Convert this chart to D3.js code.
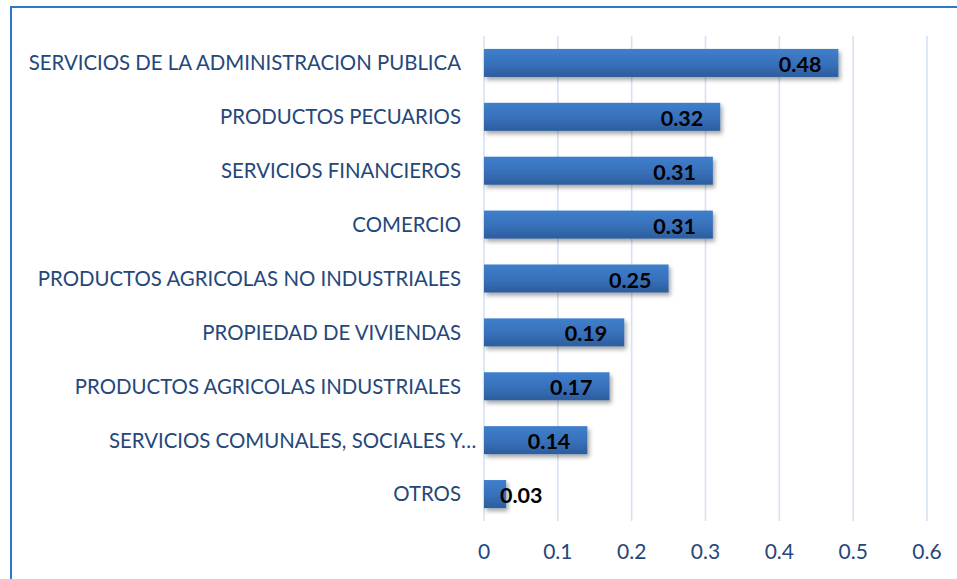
<!DOCTYPE html>
<html>
<head>
<meta charset="utf-8">
<script src="https://cdn.jsdelivr.net/npm/d3@7"></script>
<style>
  html, body { margin: 0; padding: 0; background: #fff; }
  svg { display: block; }
</style>
</head>
<body>
<svg id="chart" width="957" height="579"></svg>
<script>
// Sector shares, largest first
const categories = [
  "SERVICIOS DE LA ADMINISTRACION PUBLICA",
  "PRODUCTOS PECUARIOS",
  "SERVICIOS FINANCIEROS",
  "COMERCIO",
  "PRODUCTOS AGRICOLAS NO INDUSTRIALES",
  "PROPIEDAD DE VIVIENDAS",
  "PRODUCTOS AGRICOLAS INDUSTRIALES",
  "SERVICIOS COMUNALES, SOCIALES Y…",
  "OTROS"
];
const values = [0.48, 0.32, 0.31, 0.31, 0.25, 0.19, 0.17, 0.14, 0.03];
const tickValues = [0, 0.1, 0.2, 0.3, 0.4, 0.5, 0.6];

const svg = d3.select("#chart");
const font = "Lato, 'Open Sans', sans-serif";

// Outer frame (runs off the right and bottom edges)
svg.append("rect")
  .attr("x", 11).attr("y", 7)
  .attr("width", 960).attr("height", 590)
  .attr("fill", "none")
  .attr("stroke", "#2E78C8")
  .attr("stroke-width", 2);

const defs = svg.append("defs");
const grad = defs.append("linearGradient")
  .attr("id", "barGrad").attr("x1", 0).attr("y1", 0).attr("x2", 0).attr("y2", 1);
grad.append("stop").attr("offset", "0%").attr("stop-color", "#3E7FCB");
grad.append("stop").attr("offset", "55%").attr("stop-color", "#3870BA");
grad.append("stop").attr("offset", "100%").attr("stop-color", "#2C5D9C");

const shadow = defs.append("filter").attr("id", "barShadow")
  .attr("x", "-10%").attr("y", "-20%").attr("width", "130%").attr("height", "160%");
shadow.append("feDropShadow")
  .attr("dx", 2).attr("dy", 3).attr("stdDeviation", 2)
  .attr("flood-color", "#000").attr("flood-opacity", 0.35);

const x = d3.scaleLinear().domain([0, 0.6]).range([484, 927]);
const y = d3.scaleBand().domain(categories).range([36, 521]).paddingInner(0.48).paddingOuter(0.24);

// Vertical gridlines
svg.append("g").selectAll("line")
  .data(tickValues)
  .join("line")
  .attr("x1", d => x(d)).attr("x2", d => x(d))
  .attr("y1", 36).attr("y2", 521)
  .attr("stroke", "#D6E2F2")
  .attr("stroke-width", 1.6);

// Bars
svg.append("g").selectAll("rect")
  .data(values)
  .join("rect")
  .attr("x", x(0))
  .attr("y", (d, i) => y(categories[i]))
  .attr("width", d => x(d) - x(0))
  .attr("height", y.bandwidth())
  .attr("fill", "url(#barGrad)")
  .attr("filter", "url(#barShadow)");

// Category labels; a truncated label lets its ellipsis hang past the margin
const catLabels = svg.append("g").selectAll("text")
  .data(categories)
  .join("text")
  .attr("x", 461)
  .attr("y", d => y(d) + y.bandwidth() / 2)
  .attr("dy", "0.36em")
  .attr("text-anchor", "end")
  .attr("font-family", font)
  .attr("font-size", 20.4)
  .attr("fill", "#25477A")
  .text(d => d);
catLabels.filter(d => d.endsWith("…")).each(function() {
  const n = this.getNumberOfChars();
  const ew = this.getSubStringLength(n - 1, 1);
  d3.select(this).attr("x", 461 + ew);
});

// Value labels, inside the bar end; pushed right when the bar is too short
const valLabels = svg.append("g").selectAll("text")
  .data(values)
  .join("text")
  .attr("y", (d, i) => y(categories[i]) + y.bandwidth() / 2)
  .attr("dy", "0.42em")
  .attr("text-anchor", "end")
  .attr("font-family", font)
  .attr("font-weight", "bold")
  .attr("font-size", 21.5)
  .attr("fill", "#000")
  .text(d => d.toFixed(2));
valLabels.each(function(d) {
  const w = this.getComputedTextLength();
  const xe = Math.max(x(d) - 17, x(0) + 16 + w);
  d3.select(this).attr("x", xe);
});

// X axis tick labels
svg.append("g").selectAll("text")
  .data(tickValues)
  .join("text")
  .attr("x", d => x(d))
  .attr("y", 551)
  .attr("dy", "0.36em")
  .attr("text-anchor", "middle")
  .attr("font-family", font)
  .attr("font-size", 21)
  .attr("fill", "#25477A")
  .text(d => d === 0 ? "0" : d3.format(".1f")(d));
</script>
</body>
</html>
